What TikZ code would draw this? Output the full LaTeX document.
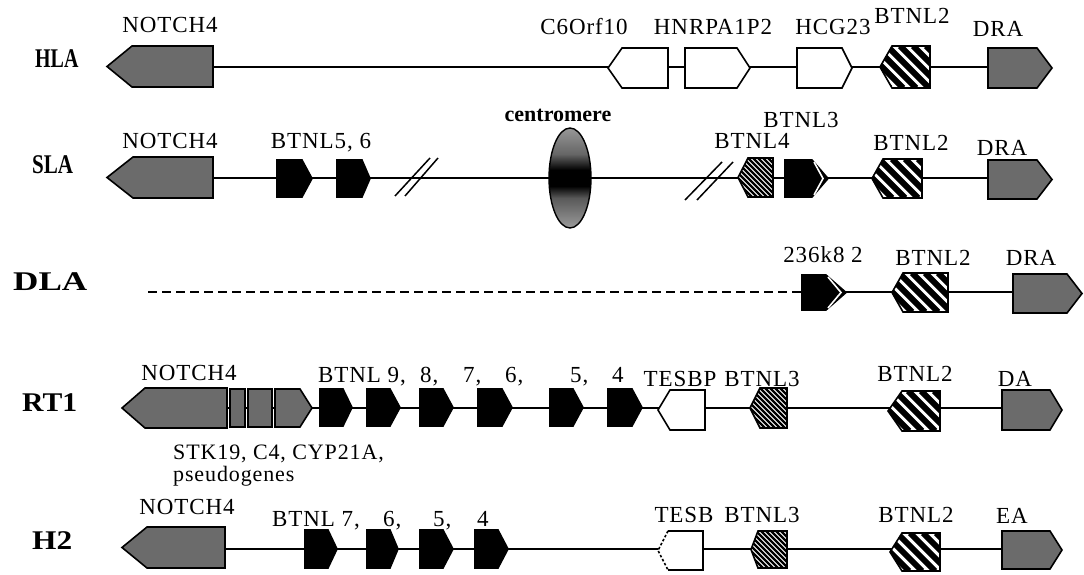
\documentclass[tikz,border=0pt]{standalone}
\usepackage{fontspec}
\setmainfont{Liberation Serif}
\newfontfamily\labfont[LetterSpace=4]{Liberation Serif}
\usepackage{graphicx}
\definecolor{genegray}{gray}{0.42}
\pgfdeclareverticalshading{centro}{100bp}{color(0bp)=(white); color(18bp)=(gray!55); color(40bp)=(gray!70!black); color(46bp)=(black); color(54bp)=(black); color(62bp)=(gray!80!black); color(82bp)=(gray!60); color(100bp)=(gray!30)}
\tikzset{
  backbone/.style={line width=1.6pt},
  geneout/.style={line width=1.6pt, line join=miter},
  graygene/.style={geneout, fill=genegray},
  whitegene/.style={geneout, fill=white},
  blackgene/.style={geneout, fill=black},
  lab/.style={font=\labfont\fontsize{23}{23}\selectfont, inner sep=0pt, anchor=base},
  labw/.style={lab, anchor=base west},
  rowlab/.style={font=\fontsize{27}{27}\selectfont\bfseries, inner sep=0pt, anchor=base west},
  breakmark/.style={line width=1.5pt},
}
% flat end, shoulder, tip, top, bottom, style
\newcommand\gene[6]{\draw[#6] (#1,#4) -- (#2,#4) -- (#3,{(#4+#5)/2}) -- (#2,#5) -- (#1,#5) -- cycle;}
% hatched gene: flat, shoulder, tip, top, bottom, period, stripe width
\newcommand\hgene[7]{%
  \begin{scope}
    \clip (#1,#4) -- (#2,#4) -- (#3,{(#4+#5)/2}) -- (#2,#5) -- (#1,#5) -- cycle;
    \fill[white] (#1,#4) rectangle (#3,#5);
    \foreach \k in {0,#6,...,130} \draw[line width=#7] ({min(#1,#3)-45+\k},#4) -- ({min(#1,#3)-45+\k+(#5-#4)},#5);
  \end{scope}
  \draw[geneout] (#1,#4) -- (#2,#4) -- (#3,{(#4+#5)/2}) -- (#2,#5) -- (#1,#5) -- cycle;}
% truncated black gene with chevron: flat, shoulder, tip, top, bottom
\newcommand\tgene[5]{%
  \draw[blackgene] (#1,#4) -- (#2,#4) -- (#3,{(#4+#5)/2}) -- (#2,#5) -- (#1,#5) -- cycle;
  \draw[white, line width=1.6pt] ({#2+2},{#4+2}) -- ({#3-5},{(#4+#5)/2}) -- ({#2+2},{#5-2});}
\begin{document}
\begin{tikzpicture}[x=1pt,y=-1pt]
\useasboundingbox (0,0) rectangle (1084,575);
\fill[white] (0,0) rectangle (1084,575);

% ---------------- HLA ----------------
\coordinate (hA) at (213,67); \coordinate (hB) at (988,67);
\draw[backbone] (hA) -- (hB);
\gene{213}{132}{107}{46}{87}{graygene}
\gene{668}{622}{608}{48}{88}{whitegene}
\gene{685}{737}{750}{48}{88}{whitegene}
\gene{797}{842}{852}{48}{88}{whitegene}
\hgene{930}{892}{880}{46}{88}{13}{6}
\gene{988}{1037}{1052}{48}{88}{graygene}
\node[rowlab] (rHLA) at (35,68) {\scalebox{0.74}[1]{HLA}};
\node[lab] (hN4) at (170,33) {NOTCH4};
\node[lab] (hC6) at (584,35) {C6Orf10};
\node[lab] (hHN) at (713,35) {HNRPA1P2};
\node[lab] (hHC) at (833,35) {HCG23};
\node[lab] (hB2) at (912,24) {BTNL2};
\node[lab] (hDR) at (998,37) {DRA};

% ---------------- SLA ----------------
\coordinate (sA) at (213,178); \coordinate (sB) at (988,178);
\draw[backbone] (sA) -- (sB);
\gene{213}{133}{107}{157}{198}{graygene}
\gene{277}{302}{312}{160}{197}{blackgene}
\gene{337}{362}{370}{160}{197}{blackgene}
\draw[breakmark] (395,196) -- (430,158);
\draw[breakmark] (405,196) -- (438,158);
\shade[shading=centro, draw=black, line width=1.4pt] (570,178) ellipse [x radius=21, y radius=50];
\draw[breakmark] (685,200) -- (722,162);
\draw[breakmark] (697,200) -- (733,162);
\hgene{773}{748}{738}{158}{197}{5}{2.2}
\tgene{785}{812}{828}{160}{197}
\hgene{922}{883}{872}{159}{198}{13}{6}
\gene{988}{1037}{1052}{160}{199}{graygene}
\node[rowlab] (rSLA) at (32,173) {\scalebox{0.78}[1]{SLA}};
\node[lab] (sN4) at (170,149) {NOTCH4};
\node[lab] (sB56) at (321,149) {BTNL5, 6};
\node[lab, font=\fontsize{22}{22}\selectfont\bfseries] (sCe) at (558,122) {centromere};
\node[lab] (sB3) at (801,128) {BTNL3};
\node[lab] (sB4) at (752,149) {BTNL4};
\node[lab] (sB2) at (911,150) {BTNL2};
\node[lab] (sDR) at (1002,155) {DRA};

% ---------------- DLA ----------------
\coordinate (dA) at (148,292); \coordinate (dB) at (802,292);
\coordinate (dC) at (840,292); \coordinate (dD) at (1013,292);
\draw[backbone, dash pattern=on 9pt off 5pt] (dA) -- (dB);
\draw[backbone] (dC) -- (dD);
\tgene{802}{826}{846}{275}{310}
\hgene{948}{903}{892}{273}{312}{13}{6}
\gene{1013}{1067}{1082}{274}{313}{graygene}
\node[rowlab] (rDLA) at (13,290) {\scalebox{1.3}[1]{DLA}};
\node[lab] (d236) at (823,262) {236k8 2};
\node[lab] (dB2) at (933,265) {BTNL2};
\node[lab] (dDR) at (1031,265) {DRA};

% ---------------- RT1 ----------------
\coordinate (tA) at (227,408); \coordinate (tB) at (1002,408);
\draw[backbone] (tA) -- (tB);
\gene{227}{145}{122}{388}{428}{graygene}
\draw[graygene] (230,389) rectangle (245,427);
\draw[graygene] (248,389) rectangle (272,427);
\gene{275}{300}{312}{389}{427}{graygene}
\gene{320}{343}{352}{389}{426}{blackgene}
\gene{367}{390}{400}{389}{426}{blackgene}
\gene{420}{443}{453}{389}{426}{blackgene}
\gene{478}{502}{512}{389}{426}{blackgene}
\gene{550}{573}{583}{389}{426}{blackgene}
\gene{608}{632}{642}{389}{426}{blackgene}
\gene{705}{670}{658}{390}{430}{whitegene}
\hgene{787}{760}{750}{388}{428}{5}{2.2}
\hgene{940}{902}{888}{391}{431}{13}{6}
\gene{1002}{1050}{1062}{390}{430}{graygene}
\node[rowlab] (rRT1) at (22,411) {\scalebox{1.1}[1]{RT1}};
\node[lab] (tN4) at (189,380) {NOTCH4};
\node[labw] (t9) at (318,382) {BTNL 9,};
\node[labw] (t8) at (420,382) {8,};
\node[labw] (t7) at (463,382) {7,};
\node[labw] (t6) at (505,382) {6,};
\node[labw] (t5) at (570,382) {5,};
\node[labw] (t4) at (612,382) {4};
\node[lab] (tTE) at (680,386) {TESBP};
\node[lab] (tB3) at (762,386) {BTNL3};
\node[lab] (tB2) at (915,381) {BTNL2};
\node[lab] (tDA) at (1015,386) {DA};
\node[labw, font=\labfont\fontsize{22}{22}\selectfont] (tSTK) at (173,459) {STK19, C4, CYP21A,};
\node[labw, font=\labfont\fontsize{22}{22}\selectfont] (tPs) at (173,481) {pseudogenes};

% ---------------- H2 ----------------
\coordinate (mA) at (225,549); \coordinate (mB) at (1002,549);
\draw[backbone] (mA) -- (mB);
\gene{225}{147}{122}{527}{568}{graygene}
\gene{305}{328}{337}{530}{568}{blackgene}
\gene{367}{390}{398}{530}{568}{blackgene}
\gene{420}{443}{453}{530}{568}{blackgene}
\gene{475}{498}{508}{530}{568}{blackgene}
\fill[white] (703,531) -- (668,531) -- (658,550.5) -- (668,570) -- (703,570) -- cycle;
\draw[geneout] (668,531) -- (703,531) -- (703,570) -- (668,570);
\draw[geneout, dash pattern=on 2.5pt off 2pt] (668,531) -- (658,550.5) -- (668,570);
\hgene{787}{758}{751}{531}{568}{5}{2.2}
\hgene{940}{902}{890}{533}{571}{13}{6}
\gene{1002}{1050}{1062}{531}{569}{graygene}
\node[rowlab] (rH2) at (32,549) {\scalebox{1.16}[1]{H2}};
\node[lab] (mN4) at (187,514) {NOTCH4};
\node[labw] (m7) at (272,526) {BTNL 7,};
\node[labw] (m6) at (383,526) {6,};
\node[labw] (m5) at (433,526) {5,};
\node[labw] (m4) at (477,526) {4};
\node[lab] (mTE) at (684,522) {TESB};
\node[lab] (mB3) at (762,522) {BTNL3};
\node[lab] (mB2) at (916,522) {BTNL2};
\node[lab] (mEA) at (1012,523) {EA};
\end{tikzpicture}
\end{document}
